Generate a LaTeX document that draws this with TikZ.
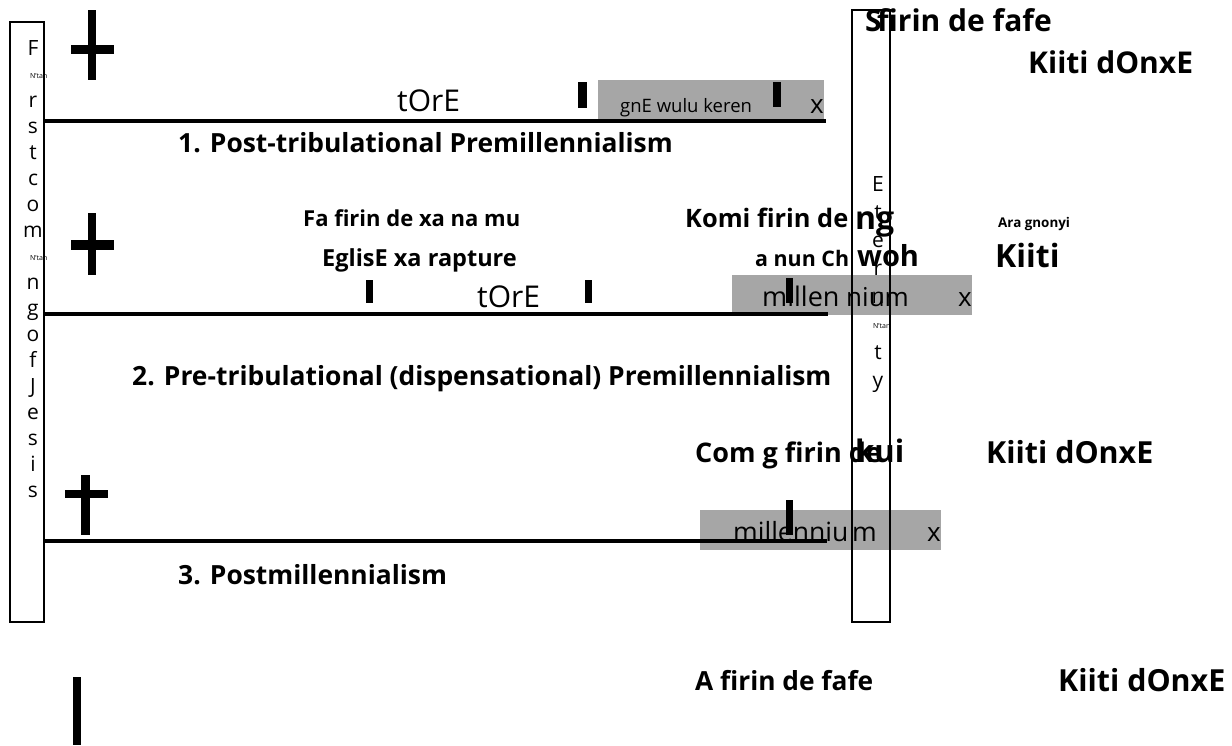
\documentclass[tikz,border=0pt]{standalone}
\usepackage{fontspec}
\setmainfont{Open Sans}
\definecolor{boxgrey}{RGB}{166,166,166}
\tikzset{
  tx/.style={inner sep=0pt, anchor=base west},
  tc/.style={inner sep=0pt, anchor=base},
  fs/.style={font=\fontsize{#1}{#1}\selectfont},
  fb/.style={font=\fontsize{#1}{#1}\selectfont\bfseries},
  rule/.style={line width=3.5pt},
  blk/.style={fill=black},
  grey/.style={fill=boxgrey},
  vbox/.style={draw=black, line width=1.5pt},
}
\begin{document}
\begin{tikzpicture}[x=1pt,y=-1pt]
\useasboundingbox (0,0) rectangle (1232,745);
% grey boxes
\fill[grey] (598,80) rectangle (824,119);
\fill[grey] (732,275) rectangle (972,315);
\fill[grey] (700,510) rectangle (941,550);
% vertical boxes
\draw[vbox] (10,22) rectangle (44,622);
\draw[vbox] (852,10) rectangle (890,622);
% letters of left box
\foreach \l [count=\i from 0] in {F,,r,s,t,c,o,m,,n,g,o,f,J,e,s,i,s}{
  \node[tc,fs=21] (L\i) at (33,55+26*\i) {\l};
}
\node[tx,fs=7] (Ln1) at (30,78) {N'tan};
\node[tx,fs=7] (Ln2) at (30,260) {N'tan};
% letters of right box
\foreach \l [count=\i from 0] in {E,t,e,r,n,,t,y}{
  \node[tc,fs=21] (R\i) at (878,191+28*\i) {\l};
}
\node[tx,fs=7] (Rn) at (873,328) {N'tan};
% crosses
\fill[blk] (88,10) rectangle (96,80);
\fill[blk] (71,45) rectangle (114,54);
\fill[blk] (88,213) rectangle (96,275);
\fill[blk] (71,240) rectangle (114,250);
\fill[blk] (81,475) rectangle (90,535);
\fill[blk] (65,490) rectangle (108,498);
\fill[blk] (73,677) rectangle (81,745);
% timeline lines
\coordinate (a1) at (44,121); \coordinate (b1) at (826,121);
\coordinate (a2) at (44,314); \coordinate (b2) at (828,314);
\coordinate (a3) at (44,541); \coordinate (b3) at (827,541);
\draw[rule] (a1) -- (b1);
\draw[rule] (a2) -- (b2);
\draw[rule] (a3) -- (b3);
% row 1
\node[tx,fs=30] (t1) at (397,111) {tOrE};
\fill[blk] (578,82) rectangle (587,108);
\node[tx,fs=18.5] (g1) at (620,112) {gnE wulu keren};
\fill[blk] (773,82) rectangle (781,107);
\node[tx,fs=26] (x1) at (810,113) {x};
\node[tx,fb=26.4] (lab1) at (178,152) {1. Post-tribulational Premillennialism};
% row 2
\node[tx,fb=22] (r2a) at (303,226) {Fa firin de xa na mu};
\node[tx,fb=23.5] (r2b) at (322,266) {EglisE xa rapture};
\node[tx,fb=25.4] (r2c) at (685,227) {Komi firin de};
\node[tx,fb=32] (r2d) at (855,229) {ng};
\node[tx,fb=21.4] (r2e) at (755,266) {a nun Ch};
\node[tx,fb=29] (r2f) at (857,266) {woh};
\node[tx,fb=13.4] (r2g) at (998,227) {Ara gnonyi};
\node[tx,fb=32] (r2h) at (995,267) {Kiiti};
\fill[blk] (366,280) rectangle (373,303);
\fill[blk] (585,280) rectangle (592,303);
\node[tx,fs=30] (t2) at (477,307) {tOrE};
\node[tx,fs=27] (m2a) at (762,306) {millen};
\node[tx,fs=26] (m2b) at (846,306) {nium};
\fill[blk] (786,278) rectangle (793,303);
\node[tx,fs=26] (x2) at (958,306) {x};
\node[tx,fb=26.4] (lab2) at (132,385) {2. Pre-tribulational (dispensational) Premillennialism};
% row 3
\node[tx,fb=27] (r3a) at (695,462) {Com g firin de};
\node[tx,fb=31] (r3b) at (855,462) {kui};
\node[tx,fb=30.4] (r3c) at (986,463) {Kiiti dOnxE};
\fill[blk] (786,500) rectangle (793,535);
\node[tx,fs=26.5] (m3a) at (733,541) {millenniu};
\node[tx,fs=26.5] (m3b) at (852,541) {m};
\node[tx,fs=26] (x3) at (927,541) {x};
\node[tx,fb=26.4] (lab3) at (178,584) {3. Postmillennialism};
% top
\node[tx,fb=30] (s1) at (865,31) {S};
\node[tx,fb=30] (s2) at (877,31) {firin de fafe};
\node[tx,fb=30] (k1) at (1028,73) {Kiiti dOnxE};
% bottom
\node[tx,fb=26.3] (af) at (695,690) {A firin de fafe};
\node[tx,fb=30.4] (k4) at (1058,691) {Kiiti dOnxE};
\end{tikzpicture}
\end{document}
